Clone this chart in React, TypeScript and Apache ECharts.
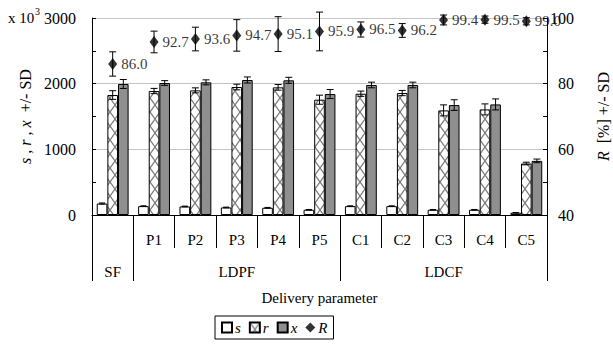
import React, { useEffect, useRef } from 'react';
import * as echarts from 'echarts';

const subLabels = ['', 'P1', 'P2', 'P3', 'P4', 'P5', 'C1', 'C2', 'C3', 'C4', 'C5'];
const groupLabels = ['SF', '', '', 'LDPF', '', '', '', '', 'LDCF', '', ''];
const groupBoundaryIdx = [0, 1, 6];
const sValues = [175, 135, 130, 115, 110, 80, 135, 135, 80, 80, 35];
const sSD = [8, 5, 5, 5, 5, 4, 5, 5, 4, 4, 3];
const rValues = [1827, 1888, 1898, 1949, 1944, 1756, 1847, 1857, 1593, 1608, 784];
const rSD = [66, 40, 38, 43, 43, 69, 40, 40, 84, 84, 20];
const xValues = [1995, 2010, 2020, 2056, 2051, 1842, 1980, 1980, 1674, 1684, 824];
const xSD = [68, 36, 38, 46, 46, 69, 43, 43, 81, 84, 28];
const RValues = [86.0, 92.7, 93.6, 94.7, 95.1, 95.9, 96.5, 96.2, 99.4, 99.5, 99.0];
const RSD = [3.7, 3.3, 3.6, 4.8, 5.3, 5.9, 2.3, 2.1, 1.5, 1.1, 1.1];
const leftAxis = { min: 0, max: 3000, interval: 1000 };
const rightAxis = { min: 40, max: 100, interval: 20 };

const FONT = 'Liberation Serif, Times New Roman, serif';
const CAT_GAP = 0.23;

function makeHatch() {
  const c = document.createElement('canvas');
  c.width = 10;
  c.height = 14;
  const ctx = c.getContext('2d')!;
  ctx.fillStyle = '#ffffff';
  ctx.fillRect(0, 0, 10, 14);
  ctx.strokeStyle = '#7a7a7a';
  ctx.lineWidth = 1.3;
  ctx.beginPath();
  ctx.moveTo(0, 0);
  ctx.lineTo(10, 14);
  ctx.moveTo(10, 0);
  ctx.lineTo(0, 14);
  ctx.stroke();
  return c;
}

function errSeries(values: number[], sds: number[], offset: number, yAxisIndex: number, capHalf: number, name: string) {
  return {
    type: 'custom',
    name,
    xAxisIndex: 0,
    yAxisIndex,
    z: 4,
    clip: false,
    silent: true,
    data: values.map((v, i) => [i, v, sds[i]]),
    renderItem: (params: any, api: any) => {
      const idx = api.value(0);
      const val = api.value(1);
      const sd = api.value(2);
      const band = api.size([1, 0])[0];
      const bw = (band * (1 - CAT_GAP)) / 3;
      const c = api.coord([idx, val]);
      const cx = c[0] + offset * bw;
      const top = api.coord([idx, val + sd])[1];
      const bot = api.coord([idx, val - sd])[1];
      const style = { stroke: '#000', lineWidth: 1 };
      return {
        type: 'group',
        children: [
          { type: 'line', shape: { x1: cx, y1: top, x2: cx, y2: bot }, style },
          { type: 'line', shape: { x1: cx - capHalf, y1: top, x2: cx + capHalf, y2: top }, style },
          { type: 'line', shape: { x1: cx - capHalf, y1: bot, x2: cx + capHalf, y2: bot }, style },
        ],
      };
    },
  };
}

export default function App() {
  const ref = useRef<HTMLDivElement>(null);
  useEffect(() => {
    if (!ref.current) return;
    const chart = echarts.init(ref.current, undefined, { renderer: 'svg' });
    const hatch = makeHatch();
    const tick = { fontFamily: FONT, fontSize: 16, color: '#000' };
    const txt = { fontFamily: FONT, fontSize: 15, color: '#000' };
    const nameStyle = {
      fontFamily: FONT,
      fontSize: 16,
      color: '#000',
      rich: { i: { fontFamily: FONT, fontSize: 16, fontStyle: 'italic', color: '#000' } },
    };
    const option: any = {
      animation: false,
      backgroundColor: '#fff',
      textStyle: { fontFamily: FONT, color: '#000' },
      grid: { left: 92, right: 66, top: 18, bottom: 129, containLabel: false, outerBoundsMode: 'none' },
      graphic: [
        { type: 'text', left: 8, top: 10, style: { text: 'x 10', font: `15px ${FONT}`, fill: '#000' } },
        { type: 'text', left: 35, top: 6, style: { text: '3', font: `10px ${FONT}`, fill: '#000' } },
      ],
      legend: {
        left: 215,
        top: 316,
        padding: [4, 6, 4, 6],
        borderColor: '#000',
        borderWidth: 1,
        itemWidth: 10,
        itemHeight: 10,
        itemGap: 8,
        textStyle: { ...txt, fontStyle: 'italic', padding: [0, 0, 0, -2] },
        data: [
          { name: 's', icon: 'rect' },
          { name: 'r', icon: 'rect' },
          { name: 'x', icon: 'rect' },
          { name: 'R', icon: 'diamond' },
        ],
      },
      xAxis: [
        {
          type: 'category',
          position: 'bottom',
          data: subLabels,
          boundaryGap: true,
          axisLine: { show: true, lineStyle: { color: '#000', width: 1 } },
          axisTick: { show: true, interval: 0, length: 33, lineStyle: { color: '#000' } },
          axisLabel: { ...txt, interval: 0, margin: 17 },
          splitLine: { show: false },
        },
        {
          type: 'category',
          position: 'bottom',
          data: groupLabels,
          boundaryGap: true,
          axisLine: { show: false },
          axisTick: {
            show: true,
            length: 66,
            interval: (index: number) => groupBoundaryIdx.includes(index),
            lineStyle: { color: '#000' },
          },
          axisLabel: { ...txt, interval: 0, margin: 49 },
          splitLine: { show: false },
          name: 'Delivery parameter',
          nameLocation: 'middle',
          nameGap: 75,
          nameTextStyle: { ...txt },
        },
      ],
      yAxis: [
        {
          type: 'value',
          position: 'left',
          min: leftAxis.min,
          max: leftAxis.max,
          interval: leftAxis.interval,
          axisLine: { show: true, lineStyle: { color: '#000' } },
          axisTick: { show: true, inside: true, length: 4, lineStyle: { color: '#000' } },
          minorTick: { show: true, splitNumber: 2, length: 4, lineStyle: { color: '#000' } },
          axisLabel: { ...tick, margin: 16, formatter: (v: number) => String(v) },
          splitLine: { show: true, lineStyle: { color: '#c4c4c4', width: 1 } },
          name: '{i|s} , {i|r} , {i|x}  +/- SD',
          nameLocation: 'middle',
          nameGap: 50,
          nameTextStyle: nameStyle,
        },
        {
          type: 'value',
          position: 'right',
          min: rightAxis.min,
          max: rightAxis.max,
          interval: rightAxis.interval,
          axisLine: { show: true, lineStyle: { color: '#000' } },
          axisTick: { show: true, inside: true, length: 4, lineStyle: { color: '#000' } },
          minorTick: { show: true, splitNumber: 2, length: 4, lineStyle: { color: '#000' } },
          axisLabel: { ...tick, margin: 27, align: 'right', formatter: (v: number) => String(v) },
          splitLine: { show: false },
          name: '{i|R}  [%] +/- SD',
          nameLocation: 'middle',
          nameGap: 48,
          nameRotate: 90,
          nameTextStyle: nameStyle,
        },
      ],
      series: [
        {
          type: 'bar',
          name: 's',
          xAxisIndex: 0,
          yAxisIndex: 0,
          data: sValues,
          barGap: '0%',
          barCategoryGap: `${CAT_GAP * 100}%`,
          itemStyle: { color: '#ffffff', borderColor: '#000', borderWidth: 1 },
        },
        {
          type: 'bar',
          name: 'r',
          xAxisIndex: 0,
          yAxisIndex: 0,
          data: rValues,
          itemStyle: {
            color: { image: hatch, repeat: 'repeat', imageWidth: 10, imageHeight: 14 },
            borderColor: '#000',
            borderWidth: 1,
          },
        },
        {
          type: 'bar',
          name: 'x',
          xAxisIndex: 0,
          yAxisIndex: 0,
          data: xValues,
          itemStyle: { color: '#8f8f8f', borderColor: '#000', borderWidth: 1 },
        },
        errSeries(sValues, sSD, -1, 0, 3, 'sErr'),
        errSeries(rValues, rSD, 0, 0, 3.5, 'rErr'),
        errSeries(xValues, xSD, 1, 0, 3.5, 'xErr'),
        errSeries(RValues, RSD, 0, 1, 3.5, 'RErr'),
        {
          type: 'scatter',
          name: 'R',
          xAxisIndex: 0,
          yAxisIndex: 1,
          data: RValues,
          symbol: 'diamond',
          symbolSize: [9, 12],
          clip: false,
          z: 5,
          itemStyle: { color: '#000' },
          label: {
            show: true,
            position: 'right',
            distance: 4,
            ...txt,
            formatter: (p: any) => Number(p.value).toFixed(1),
          },
        },
      ],
    };
    chart.setOption(option);
    return () => chart.dispose();
  }, []);
  return (
    <div
      ref={ref}
      style={{ position: 'fixed', left: 0, top: 0, width: 613, height: 344, background: '#fff' }}
    />
  );
}
